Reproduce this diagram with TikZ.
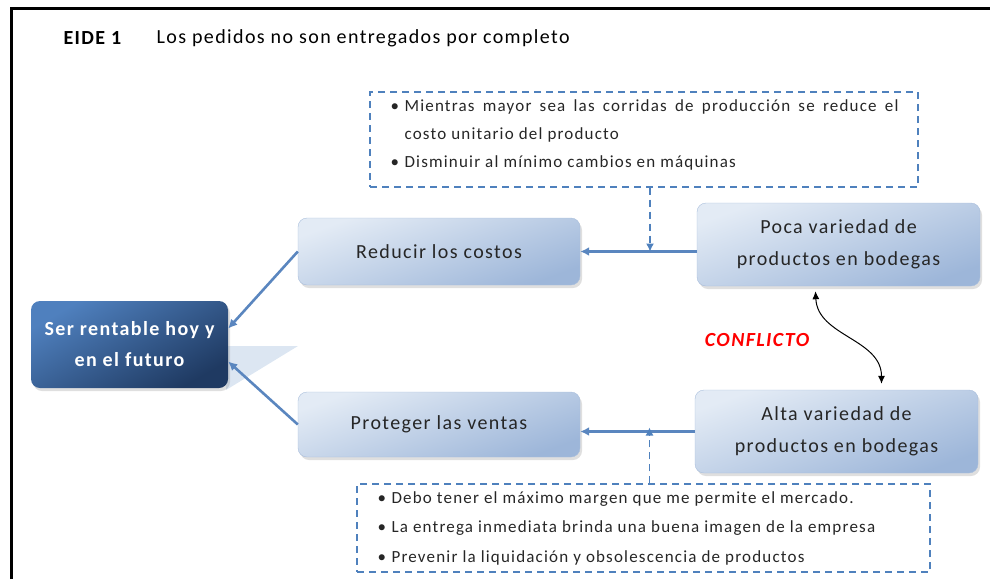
\documentclass[tikz,border=0pt]{standalone}
\usepackage{fontspec}
\setmainfont{Carlito}[LetterSpace=7]
\usetikzlibrary{positioning,arrows.meta,shadows}

\definecolor{azul}{HTML}{4F81BD}
\definecolor{flechaazul}{HTML}{5A86BF}
\definecolor{clarito}{HTML}{E3EBF5}
\definecolor{medio}{HTML}{9DB6D9}
\definecolor{borde}{HTML}{A9BEDC}
\definecolor{oscuroA}{HTML}{4F80BE}
\definecolor{oscuroB}{HTML}{1F3A62}
\definecolor{triangulo}{HTML}{DCE6F2}

\newcommand{\punto}[1]{\par\hangindent=14pt\hangafter=1\noindent\makebox[14pt][l]{\textbullet}#1}

\begin{document}
\begin{tikzpicture}[x=1pt,y=-1pt,
    caja/.style={rectangle, rounded corners=9pt, minimum width=282pt,
        top color=clarito, bottom color=medio, shading angle=20,
        draw=borde, thin,
        drop shadow={opacity=0.25, shadow xshift=2pt, shadow yshift=-3pt},
        align=center, font=\fontsize{20}{32}\selectfont, text=black!85},
    meta/.style={rectangle, rounded corners=9pt, minimum width=197pt, minimum height=87pt,
        top color=oscuroA, bottom color=oscuroB, shading angle=30,
        drop shadow={opacity=0.25, shadow xshift=2pt, shadow yshift=-3pt},
        align=center, font=\fontsize{20}{31}\selectfont\bfseries, text=white},
    nota/.style={draw=azul, dash pattern=on 7pt off 5pt, line width=1.3pt},
    notatexto/.style={inner sep=0pt, align=justify, text=black!85},
    flecha/.style={-{Latex[length=9pt,width=9pt]}, flechaazul, line width=2.6pt},
    flechad/.style={-{Latex[length=8pt,width=8pt]}, azul, dash pattern=on 7pt off 5pt, line width=1.3pt},
    conf/.style={{Latex[length=8pt,width=7pt]}-{Latex[length=8pt,width=7pt]}, black, line width=1pt}]

    \useasboundingbox (0,0) rectangle (990,579);

    % marco
    \draw[line width=3pt] (11,579) -- (11,8) -- (990,8);

    % titulo
    \node[anchor=west, font=\fontsize{20}{22}\selectfont\bfseries] (eide) at (60,38) {EIDE 1};
    \node[anchor=west, font=\fontsize{20}{22}\selectfont] (titulo) at (153,38) {Los pedidos no son entregados por completo};

    % sombra triangular
    \fill[triangulo] (226,346) -- (298,346) -- (226,390) -- cycle;

    % nodos
    \node[meta] (rent) at (129.5,344.5) {Ser rentable hoy y\\en el futuro};
    \node[caja, minimum height=67pt] (red) at (439,251.5) {Reducir los costos};
    \node[caja, minimum height=65pt] (pro) at (439,424.5) {Proteger las ventas};
    \node[caja, minimum height=83pt, minimum width=283pt] (poca) at (838.5,244.5) {Poca variedad de\\productos en bodegas};
    \node[caja, minimum height=83pt, minimum width=283pt] (alta) at (836.5,431.5) {Alta variedad de\\productos en bodegas};

    % notas punteadas
    \node[nota, minimum width=548pt, minimum height=95pt] (notaA) at (644,139.5) {};
    \node[nota, minimum width=573pt, minimum height=88pt] (notaB) at (643.5,528) {};
    \node[notatexto, text width=508pt, font=\fontsize{17}{28}\selectfont,
        below right=-8pt and 21pt of notaA.north west, anchor=north west] (textoA) {%
        \punto{Mientras mayor sea las corridas de producción se reduce el\linebreak costo unitario del producto}
        \punto{Disminuir al mínimo cambios en máquinas}};
    \node[notatexto, text width=531pt, font=\fontsize{17}{29.5}\selectfont,
        below right=-10pt and 21pt of notaB.north west, anchor=north west] (textoB) {%
        \punto{Debo tener el máximo margen que me permite el mercado.}
        \punto{La entrega inmediata brinda una buena imagen de la empresa}
        \punto{Prevenir la liquidación y obsolescencia de productos}};

    % flechas
    \draw[flecha] (red.east -| poca.west) -- (red.east);
    \draw[flecha] (alta.west) -- (alta.west -| pro.east);
    \draw[flecha] (red.west) -- ([yshift=16pt]rent.east);
    \draw[flecha] (pro.west) -- ([yshift=-17pt]rent.east);
    \draw[flechad] ([xshift=6pt]notaA.south) -- ([xshift=6pt]notaA.south |- red.east);
    \draw[flechad] ([xshift=6pt]notaB.north) -- ([xshift=6pt,yshift=4pt]notaB.north |- alta.west);

    % conflicto
    \draw[conf] ([xshift=-23pt,yshift=-5pt]poca.south) .. controls +(2,45) and +(0,-45) .. ([xshift=45pt,yshift=6pt]alta.north);
    \node[text=red, font=\fontsize{20}{22}\selectfont\bfseries\itshape] (conflicto) at (757,340) {CONFLICTO};

\end{tikzpicture}
\end{document}
